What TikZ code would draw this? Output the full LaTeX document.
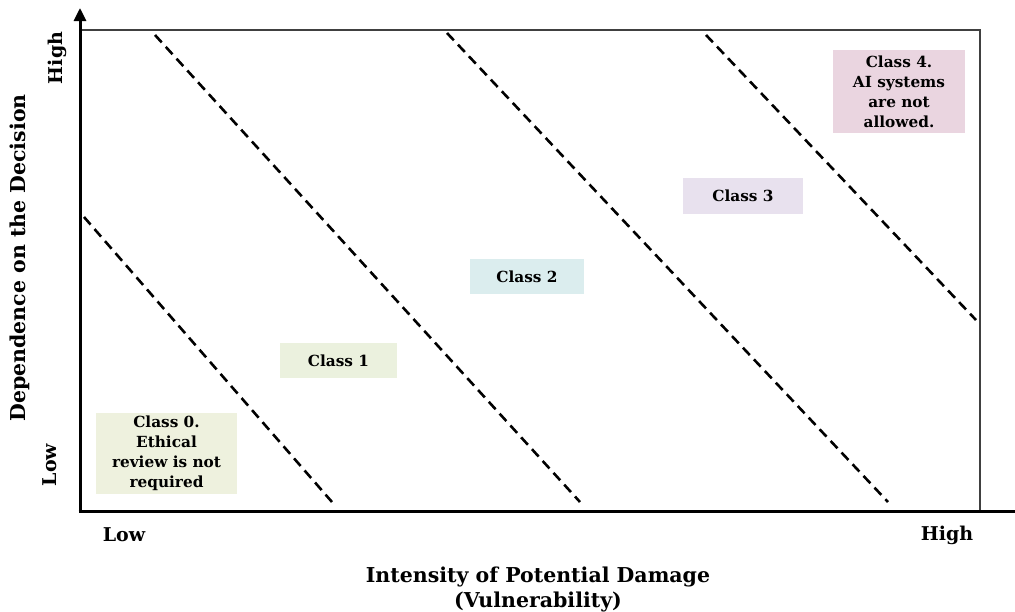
\documentclass[tikz,border=0pt]{standalone}
\usepackage{fontspec}
\setmainfont{DejaVu Serif}
\usetikzlibrary{arrows.meta}
\definecolor{cz}{HTML}{EEF1DE}
\definecolor{co}{HTML}{EBF1DE}
\definecolor{ct}{HTML}{DBEDEE}
\definecolor{cth}{HTML}{E8E1EE}
\definecolor{cf}{HTML}{EAD5E0}
\tikzset{
  cls/.style={inner sep=0pt, align=center, font=\bfseries\fontsize{15.3}{20}\selectfont},
  lbl/.style={font=\bfseries\fontsize{19}{22}\selectfont},
  ttl/.style={font=\bfseries\fontsize{20.5}{25}\selectfont, align=center},
  divider/.style={line width=2.6pt, dash pattern=on 10pt off 6pt},
  axis/.style={line width=3pt},
}
\begin{document}
\begin{tikzpicture}[x=1pt,y=-1pt]
\useasboundingbox (0,0) rectangle (1015,611);
% frame
\coordinate (o) at (80,511);
\coordinate (tl) at (80,30);
\coordinate (tr) at (980,30);
\coordinate (br) at (980,511);
\draw[line width=1.3pt, black!75] (tl) -- (tr) -- (br);
% boxes
\fill[cz] (96,413) rectangle (237,494);
\fill[co] (280,343) rectangle (397,378);
\fill[ct] (470,259) rectangle (584,294);
\fill[cth] (683,178) rectangle (803,214);
\fill[cf] (833,50) rectangle (965,133);
\node[cls] (c0) at (166.5,453.5) {Class 0.\\Ethical\\review is not\\required};
\node[cls] (c1) at (338.5,360.5) {Class 1};
\node[cls] (c2) at (527,276.5) {Class 2};
\node[cls] (c3) at (743,196) {Class 3};
\node[cls] (c4) at (899,91.5) {Class 4.\\AI systems\\are not\\allowed.};
% dashed dividers
\coordinate (a1) at (84,217); \coordinate (b1) at (332,502);
\coordinate (a2) at (155,35); \coordinate (b2) at (580,502);
\coordinate (a3) at (447,33); \coordinate (b3) at (888,502);
\coordinate (a4) at (706,35); \coordinate (b4) at (976,320);
\draw[divider] (a1) -- (b1);
\draw[divider] (a2) -- (b2);
\draw[divider] (a3) -- (b3);
\draw[divider] (a4) -- (b4);
% axes
\coordinate (ytop) at (80,8);
\coordinate (xend) at (1015,511);
\draw[axis, -{Triangle[length=13pt,width=12pt]}] (80,512.5) -- (ytop);
\draw[axis] (78.5,511) -- (xend);
% labels
\node[lbl] (xlow) at (124,535) {Low};
\node[lbl] (xhigh) at (947,535) {High};
\node[lbl, rotate=90] (ylow) at (50,465) {Low};
\node[lbl, rotate=90] (yhigh) at (57,58) {High};
\node[ttl] (xt) at (538,589) {Intensity of Potential Damage\\(Vulnerability)};
\node[ttl, rotate=90] (yt) at (20,258) {Dependence on the Decision};
\end{tikzpicture}
\end{document}
